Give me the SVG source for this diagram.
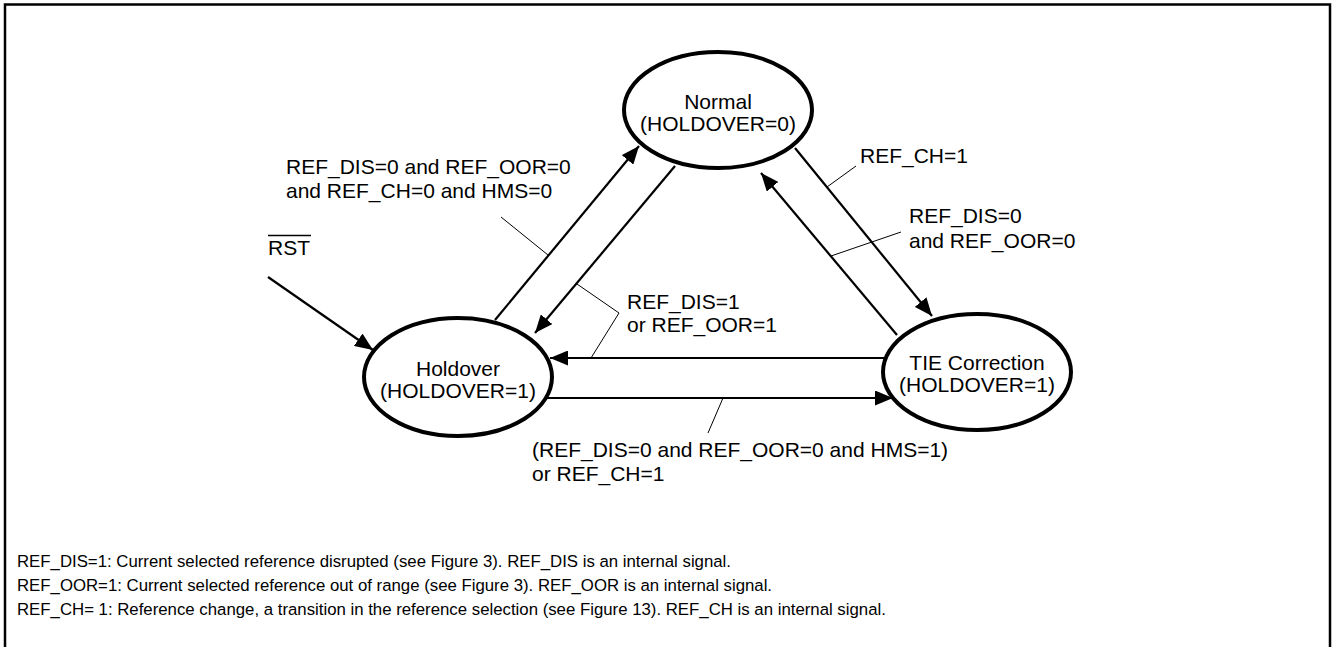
<svg xmlns="http://www.w3.org/2000/svg" width="1333" height="647" viewBox="0 0 1333 647">
<style>
text{font-family:"Liberation Sans",Arial,sans-serif;fill:#000}
.lbl{font-size:21px}
.st{font-size:21px;text-anchor:middle}
.note{font-size:16.8px}
.state{fill:#fff;stroke:#000;stroke-width:4}
.arr{stroke:#000;stroke-width:2.2;fill:none;marker-end:url(#ah)}
.lead{stroke:#000;stroke-width:1;fill:none}
</style>
<defs>
<marker id="ah" markerUnits="userSpaceOnUse" markerWidth="19" markerHeight="15" refX="18" refY="7.5" orient="auto">
<path d="M0,0 L18,7.5 L0,15 z" fill="#000"/>
</marker>
</defs>
<rect x="0" y="0" width="1333" height="647" fill="#fff"/>
<path d="M5,660 L5,4.5 L1330,4.5 L1330,660" fill="none" stroke="#000" stroke-width="2.5"/>

<g id="connectors">
<line class="arr" x1="268" y1="277" x2="373" y2="350"/>
<line class="arr" x1="495" y1="320" x2="639" y2="146"/>
<line class="arr" x1="675" y1="166" x2="535" y2="333"/>
<line class="arr" x1="795" y1="148" x2="932" y2="316"/>
<line class="arr" x1="897" y1="335" x2="761" y2="173"/>
<line class="arr" x1="885" y1="358" x2="550" y2="358"/>
<line class="arr" x1="547" y1="398" x2="893" y2="398"/>
<polyline class="lead" points="501,217 548,255"/>
<polyline class="lead" points="577,284 619,313 591,358"/>
<polyline class="lead" points="856,166 827,187"/>
<polyline class="lead" points="901,232 831,256"/>
<polyline class="lead" points="708,433 723,398"/>
</g>

<g id="normal">
<ellipse class="state" cx="718" cy="110" rx="94" ry="58"/>
<text class="st" x="718" y="109">Normal</text>
<text class="st" x="718" y="131">(HOLDOVER=0)</text>
</g>
<g id="holdover">
<ellipse class="state" cx="458" cy="377" rx="94" ry="59"/>
<text class="st" x="458" y="376">Holdover</text>
<text class="st" x="458" y="398">(HOLDOVER=1)</text>
</g>
<g id="tie">
<ellipse class="state" cx="977" cy="372" rx="94" ry="58"/>
<text class="st" x="977" y="370">TIE Correction</text>
<text class="st" x="977" y="392">(HOLDOVER=1)</text>
</g>

<g id="labels">
<text class="lbl" x="286" y="174">REF_DIS=0 and REF_OOR=0</text>
<text class="lbl" x="286" y="198">and REF_CH=0 and HMS=0</text>
<g id="rst">
<text class="lbl" x="268" y="255">RST</text>
<line x1="268" y1="235.5" x2="311" y2="235.5" stroke="#000" stroke-width="1.5"/>
</g>
<text class="lbl" x="627" y="309">REF_DIS=1</text>
<text class="lbl" x="627" y="332">or REF_OOR=1</text>
<text class="lbl" x="860" y="163">REF_CH=1</text>
<text class="lbl" x="909" y="223">REF_DIS=0</text>
<text class="lbl" x="909" y="248">and REF_OOR=0</text>
<text class="lbl" x="532" y="457">(REF_DIS=0 and REF_OOR=0 and HMS=1)</text>
<text class="lbl" x="532" y="481">or REF_CH=1</text>
</g>

<g id="notes">
<text class="note" x="17" y="567">REF_DIS=1: Current selected reference disrupted (see Figure 3). REF_DIS is an internal signal.</text>
<text class="note" x="17" y="591">REF_OOR=1: Current selected reference out of range (see Figure 3). REF_OOR is an internal signal.</text>
<text class="note" x="17" y="615">REF_CH= 1: Reference change, a transition in the reference selection (see Figure 13). REF_CH is an internal signal.</text>
</g>
</svg>
